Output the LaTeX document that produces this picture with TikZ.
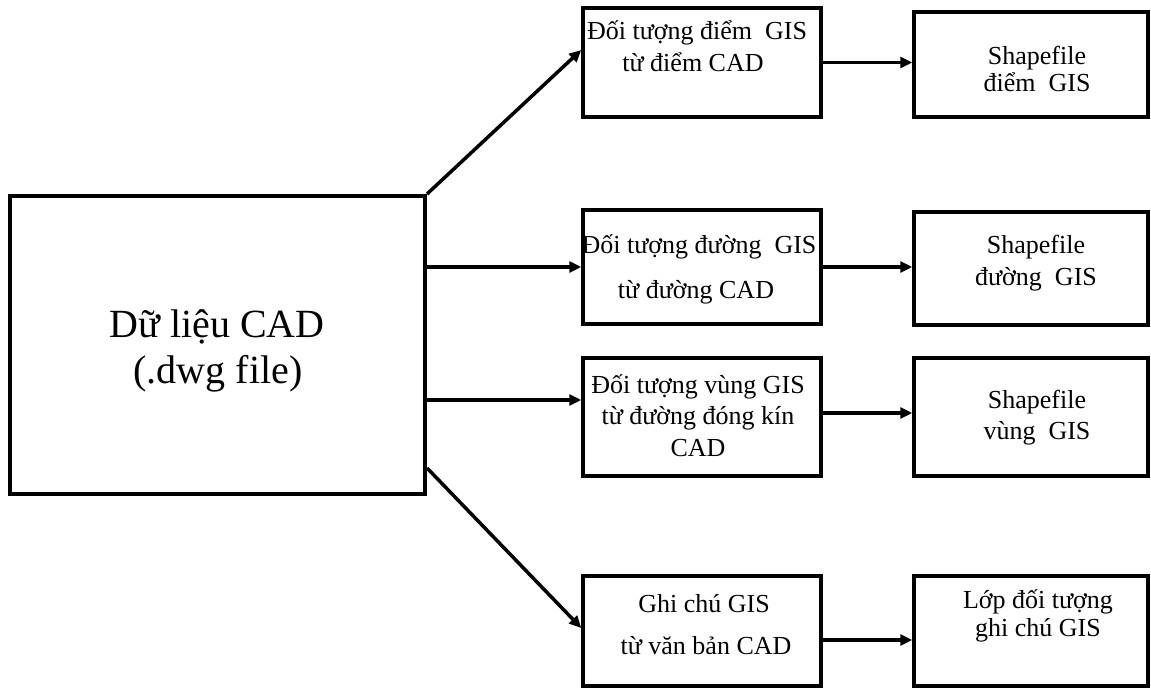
\documentclass[tikz,border=0pt]{standalone}
\usepackage{fontspec}
\setmainfont{Liberation Serif}
\usetikzlibrary{arrows.meta,calc}
\begin{document}
\begin{tikzpicture}[x=1pt,y=-1pt,
  box/.style={draw=black,line width=3.5pt,inner sep=0pt,minimum width=238pt},
  rbox/.style={draw=black,line width=3.5pt,inner sep=0pt,minimum width=234pt},
  big/.style={draw=black,line width=4pt,inner sep=0pt,minimum width=415pt,minimum height=298pt},
  txt/.style={anchor=base,inner sep=0pt,font=\fontsize{26}{30}\selectfont},
  bigtxt/.style={anchor=base,inner sep=0pt,font=\fontsize{40}{46}\selectfont},
  conn/.style={line width=3.5pt,-{Triangle[length=12pt,width=11pt]}}]
\useasboundingbox (0,0) rectangle (1151,690);
% boxes
\node[big] (cad) at (217.5,345) {};
\node[box,minimum height=109pt] (m1) at (702,62.5) {};
\node[box,minimum height=114pt] (m2) at (702,267) {};
\node[box,minimum height=118pt] (m3) at (702,417) {};
\node[box,minimum height=110pt] (m4) at (702,631) {};
\node[rbox,minimum height=105pt] (r1) at (1031,64.5) {};
\node[rbox,minimum height=113pt] (r2) at (1031,268.5) {};
\node[rbox,minimum height=118pt] (r3) at (1031,417) {};
\node[rbox,minimum height=110pt] (r4) at (1031,631) {};
% texts
\node[bigtxt] (t0a) at (217,337) {Dữ liệu CAD};
\node[bigtxt] (t0b) at (218,383) {(.dwg file)};
\node[txt] (t1a) at (697,40) {Đối tượng điểm\ \ GIS};
\node[txt] (t1b) at (693,72) {từ điểm CAD};
\node[txt] (t2a) at (699,253) {Đối tượng đường\ \ GIS};
\node[txt] (t2b) at (696,298) {từ đường CAD};
\node[txt] (t3a) at (698,393) {Đối tượng vùng GIS};
\node[txt] (t3b) at (698,424) {từ đường đóng kín};
\node[txt] (t3c) at (698,456) {CAD};
\node[txt] (t4a) at (704,612) {Ghi chú GIS};
\node[txt] (t4b) at (706,654) {từ văn bản CAD};
\node[txt] (u1a) at (1037,65) {Shapefile};
\node[txt] (u1b) at (1037,92) {điểm\ \ GIS};
\node[txt] (u2a) at (1036,253) {Shapefile};
\node[txt] (u2b) at (1036,285) {đường\ \ GIS};
\node[txt] (u3a) at (1037,408) {Shapefile};
\node[txt] (u3b) at (1037,439) {vùng\ \ GIS};
\node[txt] (u4a) at (1038,608) {Lớp đối tượng};
\node[txt] (u4b) at (1038,636) {ghi chú GIS};
% connectors
\draw[conn] (cad.north east) -- ([yshift=12.5pt]m1.west);
\draw[conn] (m2.west -| cad.east) -- (m2.west);
\draw[conn] ([yshift=17pt]m3.west -| cad.east) -- ([yshift=17pt]m3.west);
\draw[conn] ([yshift=-123pt]cad.east) -- ([yshift=3pt]m4.west);
\draw[conn] (m1.east) -- (m1.east -| r1.west);
\draw[conn] (m2.east) -- (m2.east -| r2.west);
\draw[conn] ([yshift=4pt]m3.east) -- ([yshift=4pt]m3.east -| r3.west);
\draw[conn] ([yshift=-9pt]m4.east) -- ([yshift=-9pt]m4.east -| r4.west);
\end{tikzpicture}
\end{document}
